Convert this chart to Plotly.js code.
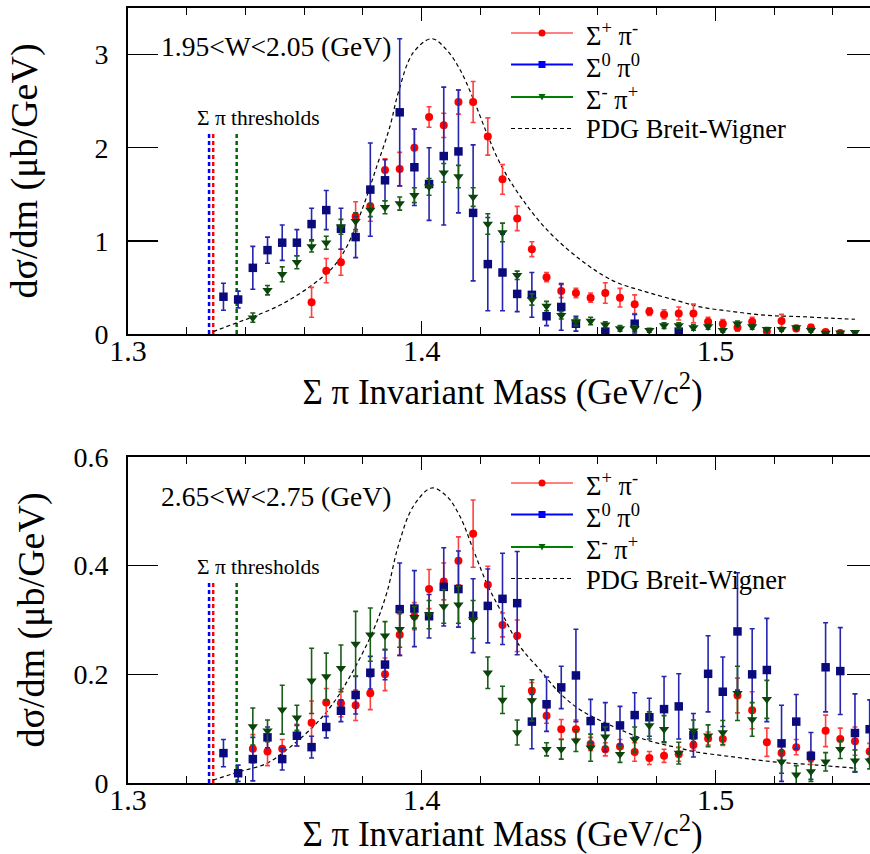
<!DOCTYPE html>
<html>
<head>
<meta charset="utf-8">
<script src="https://cdn.plot.ly/plotly-3.0.1.min.js"></script>
<style>
html,body{margin:0;padding:0;overflow:hidden;background:#fff;}
#chart{width:880px;height:854px;}
</style>
</head>
<body>
<div id="chart"></div>
<script>
// ---- bin centres (GeV) ----
const mass = [1.3325,1.3375,1.3425,1.3475,1.3525,1.3575,1.3625,1.3675,1.3725,1.3775,
              1.3825,1.3875,1.3925,1.3975,1.4025,1.4075,1.4125,1.4175,1.4225,1.4275,
              1.4325,1.4375,1.4425,1.4475,1.4525,1.4575,1.4625,1.4675,1.4725,1.4775,
              1.4825,1.4875,1.4925,1.4975,1.5025,1.5075,1.5125,1.5175,1.5225,1.5275,
              1.5325,1.5375,1.5425,1.5475,1.5525];

// ---- Top panel: 1.95 < W < 2.05 GeV ----
const topSpSm = [null,null,null,null,null,null,0.34,0.68,0.77,1.26,
                 1.37,1.76,1.77,2.00,2.33,2.24,2.49,2.49,2.12,1.66,
                 1.24,0.91,0.61,0.46,0.44,0.39,0.44,0.39,0.32,0.24,
                 0.21,0.22,0.22,0.13,0.11,0.07,0.13,0.03,0.14,0.06,
                 0.07,0.02,0.01,null,null];
const topSpSmErr = [0,0,0,0,0,0,0.16,0.13,0.14,0.16,
                    0.16,0.12,0.18,0.20,0.11,0.13,0.13,0.22,0.20,0.16,
                    0.13,0.08,0.05,0.07,0.05,0.05,0.11,0.10,0.10,0.04,
                    0.05,0.07,0.10,0.05,0.045,0.04,0.05,0.02,0.07,0.03,
                    0.03,0.02,0.02,0,0];
const topS0P0 = [0.40,0.37,0.71,0.90,0.98,0.98,1.18,1.33,1.13,1.04,
                 1.55,1.65,2.38,1.79,1.61,1.91,1.96,1.30,0.75,0.66,
                 0.43,0.42,0.19,0.29,0.11,null,0.025,null,0.11,null,
                 null,0.025,null,null,null,null,null,null,null,null,
                 null,null,null,null,null];
const topS0P0Err = [0.145,0.09,0.23,0.14,0.19,0.14,0.17,0.21,0.22,0.22,
                    0.50,0.22,0.79,0.41,0.39,0.74,0.66,0.73,0.50,0.41,
                    0.19,0.24,0.10,0.25,0.08,0,0.03,0,0.10,0,
                    0,0.03,0,0,0,0,0,0,0,0,
                    0,0,0,0,0];
const topSmSp = [null,null,0.175,0.47,0.64,0.77,0.94,0.98,1.15,1.21,
                 1.33,1.36,1.40,1.49,1.58,1.73,1.69,1.47,1.18,1.09,
                 0.63,0.37,0.30,0.20,0.13,0.14,0.10,0.06,0.06,0.04,
                 0.09,0.09,0.07,0.08,0.04,0.11,0.08,0.05,0.05,0.07,
                 0.04,0.01,0.014,0.018,null];
const topSmSpErr = [0,0,0.05,0.05,0.08,0.07,0.06,0.07,0.08,0.09,
                    0.07,0.07,0.07,0.08,0.09,0.10,0.12,0.10,0.11,0.10,
                    0.045,0.06,0.05,0.04,0.04,0.04,0.03,0.03,0.03,0.02,
                    0.03,0.03,0.03,0.03,0.02,0.03,0.03,0.02,0.02,0.02,
                    0.02,0.01,0.01,0.01,0];
const topBWx = [1.3290,1.3370,1.3427,1.3518,1.3620,1.3699,1.3745,1.3801,1.3847,1.3892,
                1.3920,1.3971,1.4034,1.4085,1.4130,1.4176,1.4221,1.4267,1.4335,1.4426,
                1.4539,1.4652,1.4766,1.4879,1.4948,1.5061,1.5174,1.5288,1.5401,1.5475];
const topBWy = [0.025,0.12,0.186,0.31,0.51,0.72,0.94,1.37,1.80,2.23,
                2.59,3.02,3.17,3.05,2.84,2.52,2.16,1.83,1.48,1.12,
                0.80,0.57,0.45,0.35,0.29,0.24,0.20,0.186,0.168,0.158];

// ---- Bottom panel: 2.65 < W < 2.75 GeV ----
const botSpSm = [null,null,0.063,0.058,0.063,0.088,0.111,0.148,0.147,0.143,
                 0.165,0.20,0.273,0.307,0.357,0.371,0.409,0.459,0.365,0.291,
                 0.271,0.170,0.124,0.099,0.099,0.072,0.062,0.067,0.057,0.046,
                 0.050,0.053,0.070,0.082,0.081,0.161,0.134,0.075,0.055,0.066,
                 0.046,0.096,0.081,0.077,0.058];
const botSpSmErr = [0,0,0.026,0.026,0.017,0.02,0.04,0.026,0.025,0.028,
                    0.03,0.03,0.038,0.025,0.036,0.034,0.044,0.062,0.034,0.022,
                    0.029,0.015,0.014,0.018,0.017,0.012,0.012,0.013,0.017,0.012,
                    0.012,0.013,0.01,0.012,0.012,0.032,0.034,0.026,0.018,0.014,
                    0.012,0.029,0.02,0.026,0.015];
const botS0P0 = [0.055,0.018,0.044,0.084,0.044,0.087,0.066,0.103,0.133,0.162,
                 0.203,0.218,0.320,0.321,0.307,0.361,0.357,0.308,0.326,0.339,
                 0.331,0.113,0.145,0.176,0.198,0.114,0.103,0.106,0.125,0.121,
                 0.136,0.141,0.088,0.201,0.168,0.279,0.200,0.208,0.073,0.113,
                 0.050,0.213,0.206,0.092,0.099];
const botS0P0Err = [0.025,0.015,0.04,0.019,0.02,0.019,0.02,0.02,0.02,0.035,
                    0.03,0.028,0.085,0.07,0.04,0.072,0.07,0.068,0.068,0.084,
                    0.095,0.05,0.05,0.039,0.085,0.04,0.045,0.035,0.041,0.035,
                    0.06,0.06,0.04,0.07,0.064,0.108,0.084,0.095,0.07,0.05,
                    0.043,0.082,0.08,0.072,0.054];
const botSmSp = [null,null,0.104,0.096,0.135,0.120,0.188,0.196,0.211,0.256,
                 0.273,0.271,0.283,0.305,0.310,0.325,0.328,0.301,0.203,0.153,
                 0.093,0.152,0.062,0.062,0.078,0.065,0.085,0.053,0.080,0.106,
                 0.099,0.055,0.096,0.087,0.093,0.165,0.117,0.154,0.039,0.015,
                 0.021,0.039,0.062,0.041,0.041];
const botSmSpErr = [0,0,0.034,0.02,0.045,0.023,0.06,0.043,0.043,0.06,
                    0.049,0.026,0.033,0.02,0.026,0.031,0.034,0.035,0.029,0.025,
                    0.023,0.038,0.012,0.018,0.02,0.025,0.018,0.015,0.023,0.025,
                    0.025,0.02,0.02,0.02,0.022,0.05,0.031,0.035,0.021,0.017,
                    0.018,0.017,0.017,0.02,0.015];
const botBWx = [1.3290,1.3381,1.3472,1.3540,1.3631,1.3699,1.3768,1.3836,1.3881,1.3920,
                1.3971,1.4034,1.4085,1.4130,1.4176,1.4221,1.4267,1.4335,1.4403,1.4471,
                1.4539,1.4652,1.4766,1.4879,1.4925,1.5061,1.5197,1.5345,1.5481];
const botBWy = [0.0055,0.021,0.036,0.061,0.104,0.147,0.208,0.282,0.35,0.436,
                0.509,0.543,0.528,0.491,0.429,0.368,0.319,0.251,0.208,0.165,
                0.135,0.104,0.079,0.064,0.058,0.048,0.039,0.033,0.027];

// ---- thresholds (GeV) ----
const thrNames = ['Σ0π0','Σ+π-','Σ-π+'];
const thrMass = [1.3276, 1.3290, 1.3370];
const thrColors = ['#0000ff','#ff0000','#006600'];
const thrTopHeight = [2.16, 0.37];   // line top for each panel

const seriesNames = ['Σ<sup>+</sup> π<sup>-</sup>','Σ<sup>0</sup> π<sup>0</sup>','Σ<sup>-</sup> π<sup>+</sup>','PDG Breit-Wigner'];
const FONT = '"Liberation Serif", "Times New Roman", serif';

const mk = {
  red:   {symbol:'circle', size:8, color:'#ff0000', err:'#ff4040', leg:'#ff8080', legm:'#ff0000'},
  blue:  {symbol:'square', size:8.5, color:'#0a0a7c', err:'#2525b0', leg:'#0000ff', legm:'#0000ff'},
  green: {symbol:'triangle-down', size:9, color:'#0b450b', err:'#1b5e1b', leg:'#008000', legm:'#006600'}
};
const keys = ['red','blue','green'];

function panel(xa, ya, sets, bwX, bwY, thrH) {
  const tr = [];
  thrMass.forEach((m, k) => {
    tr.push({x:[m, m], y:[0, thrH], xaxis:xa, yaxis:ya, mode:'lines', showlegend:false,
      hoverinfo:'skip', name:thrNames[k],
      line:{color:thrColors[k], width:2.5, dash:'4px,3px'}});
  });
  tr.push({x:bwX, y:bwY, xaxis:xa, yaxis:ya, mode:'lines', name:seriesNames[3], showlegend:false,
    line:{color:'#000000', width:1.2, dash:'4px,3px', shape:'spline'}});
  sets.forEach((s, k) => {
    const st = mk[keys[k]];
    tr.push({x:mass, y:s[0], xaxis:xa, yaxis:ya, mode:'markers', showlegend:false,
      name:seriesNames[k],
      marker:{symbol:st.symbol, size:st.size, color:st.color, line:{width:0}},
      error_y:{type:'data', array:s[1], visible:true, color:st.err, thickness:1.6, width:2.5}});
  });
  return tr;
}

const data = [].concat(
  panel('x','y',
    [[topSpSm, topSpSmErr],[topS0P0, topS0P0Err],[topSmSp, topSmSpErr]],
    topBWx, topBWy, thrTopHeight[0]),
  panel('x2','y2',
    [[botSpSm, botSpSmErr],[botS0P0, botS0P0Err],[botSmSp, botSmSpErr]],
    botBWx, botBWy, thrTopHeight[1])
);

// ---- layout helpers (pixel -> paper) ----
const L = 128, PW = 749, T = 8, PH = 775;
const px = v => (v - L) / PW;
const py = v => (T + PH - v) / PH;

function xaxisDef(anchor) {
  return {anchor:anchor, domain:[0,1], range:[1.3, 1.555], tick0:1.3, dtick:0.1, tickformat:'.1f',
    ticks:'inside', ticklen:13, tickwidth:1.5, tickcolor:'#000',
    minor:{dtick:0.02, ticks:'inside', ticklen:7, tickwidth:1, tickcolor:'#000'},
    showline:true, linewidth:2, linecolor:'#000', mirror:'allticks',
    showgrid:false, zeroline:false, ticklabelstandoff:-11,
    tickfont:{family:FONT, size:30, color:'#000'},
    title:{text:'Σ π Invariant Mass (GeV/c<sup>2</sup>)', font:{family:FONT, size:35, color:'#000'}, standoff:3}};
}
function yaxisDef(anchor, domain, range, dtick, standoff) {
  return {anchor:anchor, domain:domain, range:range, dtick:dtick, tick0:0,
    ticks:'inside', ticklen:30, tickwidth:1.5, tickcolor:'#000',
    showline:true, linewidth:2, linecolor:'#000', mirror:'ticks',
    showgrid:false, zeroline:false, ticklabelstandoff:12,
    tickfont:{family:FONT, size:28, color:'#000'},
    title:{text:'dσ/dm (μb/GeV)', font:{family:FONT, size:38, color:'#000'}, standoff:standoff}};
}

const annFont = {family:FONT, size:27.5, color:'#000'};
const thrFont = {family:FONT, size:21.5, color:'#000'};
const legFont = {family:FONT, size:26.5, color:'#000'};

// manual legends (one per panel)
const shapes = [];
const annotations = [
  {xref:'x', yref:'y', x:1.3106, y:3.09, xanchor:'left', yanchor:'middle', showarrow:false,
   text:'1.95&lt;W&lt;2.05 (GeV)', font:annFont},
  {xref:'x', yref:'y', x:1.3228, y:2.32, xanchor:'left', yanchor:'middle', showarrow:false,
   text:'Σ π thresholds', font:thrFont},
  {xref:'x2', yref:'y2', x:1.3106, y:0.527, xanchor:'left', yanchor:'middle', showarrow:false,
   text:'2.65&lt;W&lt;2.75 (GeV)', font:annFont},
  {xref:'x2', yref:'y2', x:1.3228, y:0.398, xanchor:'left', yanchor:'middle', showarrow:false,
   text:'Σ π thresholds', font:thrFont}
];
[33, 483].forEach(top => {
  const rows = [top, top + 31.5, top + 64, top + 95.5];
  const x0 = 511, x1 = 573, xm = 542, xt = 585;
  keys.forEach((key, k) => {
    const st = mk[key], yc = rows[k];
    shapes.push({type:'line', xref:'paper', yref:'paper', x0:px(x0), x1:px(x1), y0:py(yc), y1:py(yc),
      line:{color:st.leg, width:2}});
    if (key === 'red') {
      shapes.push({type:'circle', xref:'paper', yref:'paper', x0:px(xm-3.5), x1:px(xm+3.5),
        y0:py(yc+3.5), y1:py(yc-3.5), fillcolor:st.legm, line:{width:0}});
    } else if (key === 'blue') {
      shapes.push({type:'rect', xref:'paper', yref:'paper', x0:px(xm-3.5), x1:px(xm+3.5),
        y0:py(yc+3.5), y1:py(yc-3.5), fillcolor:st.legm, line:{width:0}});
    } else {
      shapes.push({type:'path', xref:'paper', yref:'paper',
        path:`M${px(xm-3.5)},${py(yc-3)} L${px(xm+3.5)},${py(yc-3)} L${px(xm)},${py(yc+3.5)} Z`,
        fillcolor:st.legm, line:{width:0}});
    }
    annotations.push({xref:'paper', yref:'paper', x:px(xt), y:py(yc+1), xanchor:'left', yanchor:'middle',
      showarrow:false, text:seriesNames[k], font:legFont, borderpad:0});
  });
  shapes.push({type:'line', xref:'paper', yref:'paper', x0:px(x0), x1:px(x1), y0:py(rows[3]), y1:py(rows[3]),
    line:{color:'#000', width:1.2, dash:'4px,3px'}});
  annotations.push({xref:'paper', yref:'paper', x:px(xt), y:py(rows[3]+1), xanchor:'left', yanchor:'middle',
    showarrow:false, text:seriesNames[3], font:legFont, borderpad:0});
});

const layout = {
  width:880, height:854,
  margin:{l:L, r:3, t:T, b:71},
  paper_bgcolor:'#fff', plot_bgcolor:'#fff',
  showlegend:false,
  xaxis: xaxisDef('y'),
  yaxis: yaxisDef('x', [0.5794, 1], [0, 3.5], 1, 45),
  xaxis2: xaxisDef('y2'),
  yaxis2: yaxisDef('x2', [0, 0.4206], [0, 0.6], 0.2, 17),
  shapes: shapes,
  annotations: annotations
};

Plotly.newPlot('chart', data, layout, {displayModeBar:false, staticPlot:true});
</script>
</body>
</html>
